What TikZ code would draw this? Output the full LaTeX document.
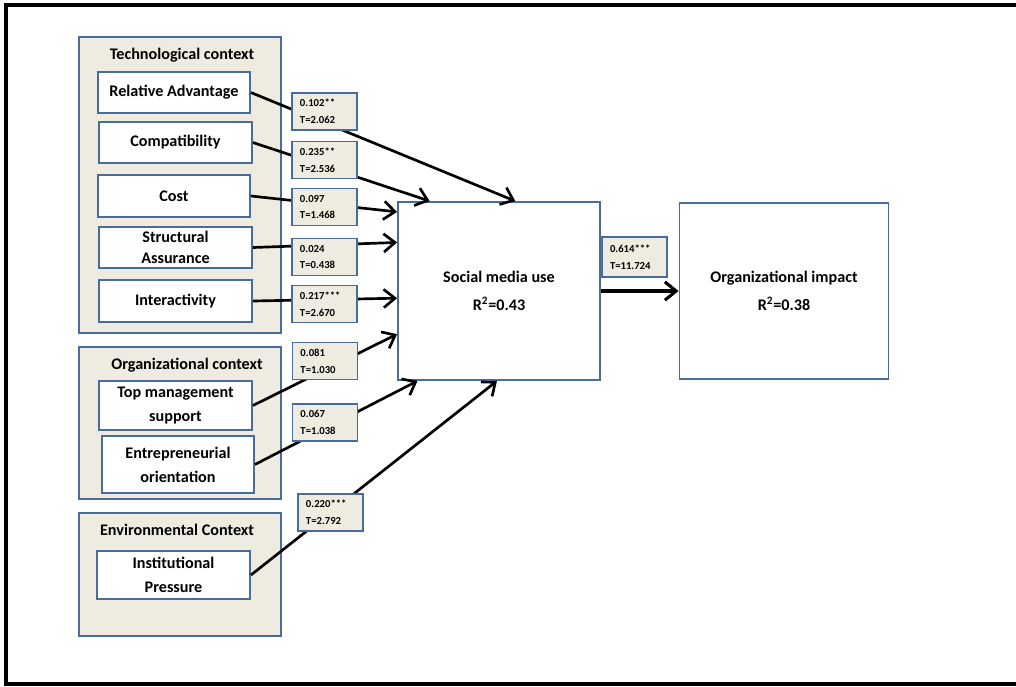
\documentclass[tikz,border=0pt]{standalone}
\usepackage{fontspec}
\setmainfont{Carlito}
\usetikzlibrary{arrows.meta,calc}
\definecolor{bord}{HTML}{4A6C9B}
\definecolor{beige}{HTML}{EEECE1}
\begin{document}
\begin{tikzpicture}[x=0.025cm,y=-0.025cm,
  sz/.style 2 args={minimum width=#1*0.025cm, minimum height=#2*0.025cm},
  grp/.style={draw=bord, fill=beige, line width=1.3pt, inner sep=0pt},
  item/.style={draw=bord, fill=white, line width=1.3pt, inner sep=0pt, align=center,
    font=\bfseries\fontsize{11.5}{17}\selectfont},
  ttl/.style={inner sep=0pt, font=\bfseries\fontsize{11.5}{14}\selectfont},
  lbl/.style={draw=bord, fill=beige, line width=1.3pt, align=left, inner xsep=0.2cm,
    inner ysep=0pt, text width=1.225cm, minimum height=37*0.025cm,
    font=\bfseries\fontsize{7.6}{12}\selectfont},
  big/.style={draw=bord, fill=white, line width=1.3pt, inner sep=0pt, align=center,
    font=\bfseries\fontsize{11.5}{20}\selectfont},
  conn/.style={line width=1.9pt, -{Straight Barb[length=8pt,width=13pt]}}]
\useasboundingbox (0,0) rectangle (1016,686);
\draw[line width=2.8pt] (1016,5) -- (6,5) -- (6,684) -- (1016,684);
% groups
\node[grp, sz={202}{296}] (tech) at (180,185) {};
\node[grp, sz={202}{152}] (org) at (180,423) {};
\node[grp, sz={202}{123}] (env) at (180,574.5) {};
\node[ttl] (techt) at (182,55) {Technological context};
\node[ttl] (orgt) at (187,365) {Organizational context};
\node[ttl] (envt) at (177,530) {Environmental Context};
% items
\node[item, sz={152}{41}] (ra) at (174,92.5) {Relative Advantage};
\node[item, sz={153}{41}] (co) at (175.5,142.5) {Compatibility};
\node[item, sz={152}{42}] (cs) at (174,196) {Cost};
\node[item, sz={153}{41}, font=\bfseries\fontsize{11.5}{15}\selectfont] (sa) at (175.5,247.5) {Structural\\Assurance};
\node[item, sz={153}{42}] (in) at (175.5,301) {Interactivity};
\node[item, sz={153}{49}] (tm) at (175.5,405.5) {Top management\\support};
\node[item, sz={152}{57}] (eo) at (178,464.5) {Entrepreneurial\\orientation};
\node[item, sz={153}{48}] (ip) at (173.5,575) {Institutional\\Pressure};
% constructs
\node[big, sz={202}{178}] (smu) at (499,291) {Social media use\\R\textsuperscript{2}=0.43};
\node[big, sz={209}{176}] (oi) at (784,291) {Organizational impact\\R\textsuperscript{2}=0.38};
% arrow targets
\coordinate (t1) at ($(smu.north west)!0.58!(smu.north east)$);
\coordinate (t2) at ($(smu.north west)!0.16!(smu.north east)$);
\coordinate (t3) at ($(smu.north west)!0.06!(smu.south west)$);
\coordinate (t4) at ($(smu.north west)!0.23!(smu.south west)$);
\coordinate (t5) at ($(smu.north west)!0.54!(smu.south west)$);
\coordinate (t6) at ($(smu.north west)!0.74!(smu.south west)$);
\coordinate (t7) at ($(smu.south west)!0.10!(smu.south east)$);
\coordinate (t8) at ($(smu.south west)!0.49!(smu.south east)$);
% connectors
\draw[conn] (ra.east) -- (t1);
\draw[conn] (co.east) -- (t2);
\draw[conn] (cs.east) -- (t3);
\draw[conn] (sa.east) -- (t4);
\draw[conn] (in.east) -- (t5);
\draw[conn] (tm.east) -- (t6);
\draw[conn] (eo.east) -- (t7);
\draw[conn] (ip.east) -- (t8);
\draw[conn, line width=2.2pt] (smu.east) -- (oi.west);
% labels
\node[lbl] (l1) at (324.5,111.5) {0.102**\\T=2.062};
\node[lbl] (l2) at (324.5,160) {0.235**\\T=2.536};
\node[lbl] (l3) at (324.5,207) {0.097\\T=1.468};
\node[lbl] (l4) at (324.5,257) {0.024\\T=0.438};
\node[lbl] (l5) at (324.5,304) {0.217***\\T=2.670};
\node[lbl] (l6) at (325,361) {0.081\\T=1.030};
\node[lbl] (l7) at (325,422.5) {0.067\\T=1.038};
\node[lbl] (l8) at (330.5,512.5) {0.220***\\T=2.792};
\node[lbl, minimum height=40*0.025cm] (l9) at (634.5,257) {0.614***\\T=11.724};
\end{tikzpicture}
\end{document}
